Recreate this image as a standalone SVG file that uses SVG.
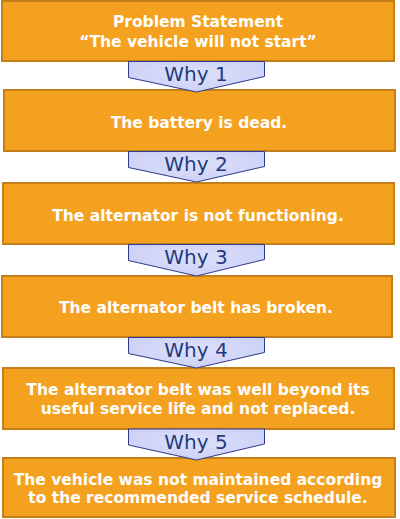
<svg xmlns="http://www.w3.org/2000/svg" width="400" height="519" viewBox="0 0 400 519">
  <defs>
    <radialGradient id="why" cx="0.5" cy="0.4" r="0.7">
      <stop offset="0" stop-color="#DDE0FA"/>
      <stop offset="1" stop-color="#C9CDF5"/>
    </radialGradient>
  </defs>
  <style>
    .box { fill: #F4A11F; stroke: #C47F1A; stroke-width: 2; }
    .txt { font-family: "DejaVu Sans", Verdana, sans-serif; font-weight: bold; font-size: 15.5px; fill: #FFFFFF; text-anchor: middle; }
    .arr { fill: url(#why); stroke: #2C3A8C; stroke-width: 1; }
    .why { font-family: "DejaVu Sans", Verdana, sans-serif; font-size: 20px; fill: #1E3A7E; text-anchor: middle; }
  </style>
  <rect width="400" height="519" fill="#FFFFFF"/>

  <g id="node-problem">
    <rect class="box" x="2" y="1" width="392" height="60"/>
    <text class="txt" x="198" y="27.3">Problem Statement</text>
    <text class="txt" x="198" y="47.3">“The vehicle will not start”</text>
  </g>
  <g id="node-why1">
    <rect class="box" x="4" y="90" width="391" height="61"/>
    <text class="txt" x="199" y="127.5">The battery is dead.</text>
  </g>
  <g id="node-why2">
    <rect class="box" x="3" y="183" width="391" height="61"/>
    <text class="txt" x="198" y="221">The alternator is not functioning.</text>
  </g>
  <g id="node-why3">
    <rect class="box" x="2" y="276" width="390" height="61"/>
    <text class="txt" x="196" y="313">The alternator belt has broken.</text>
  </g>
  <g id="node-why4">
    <rect class="box" x="3" y="368" width="391" height="61"/>
    <text class="txt" x="198" y="395">The alternator belt was well beyond its</text>
    <text class="txt" x="198" y="414">useful service life and not replaced.</text>
  </g>
  <g id="node-why5">
    <rect class="box" x="3" y="458" width="392" height="59"/>
    <text class="txt" x="198" y="485">The vehicle was not maintained according</text>
    <text class="txt" x="198" y="503.3">to the recommended service schedule.</text>
  </g>

  <g id="connectors">
    <g id="c1">
      <polygon class="arr" points="128.5,61.5 264.5,61.5 264.5,76.5 196.5,92 128.5,77.5"/>
      <text class="why" x="196" y="81">Why 1</text>
    </g>
    <g id="c2">
      <polygon class="arr" points="128.5,151.5 264.5,151.5 264.5,166.5 196.5,182 128.5,167.5"/>
      <text class="why" x="196" y="171">Why 2</text>
    </g>
    <g id="c3">
      <polygon class="arr" points="128.5,244.5 264.5,244.5 264.5,259.5 196.5,276 128.5,260.5"/>
      <text class="why" x="196" y="264">Why 3</text>
    </g>
    <g id="c4">
      <polygon class="arr" points="128.5,337.5 264.5,337.5 264.5,352.5 196.5,368 128.5,353.5"/>
      <text class="why" x="196" y="357">Why 4</text>
    </g>
    <g id="c5">
      <polygon class="arr" points="128.5,429 264.5,429 264.5,444 196.5,460 128.5,445"/>
      <text class="why" x="196" y="449">Why 5</text>
    </g>
  </g>
</svg>
